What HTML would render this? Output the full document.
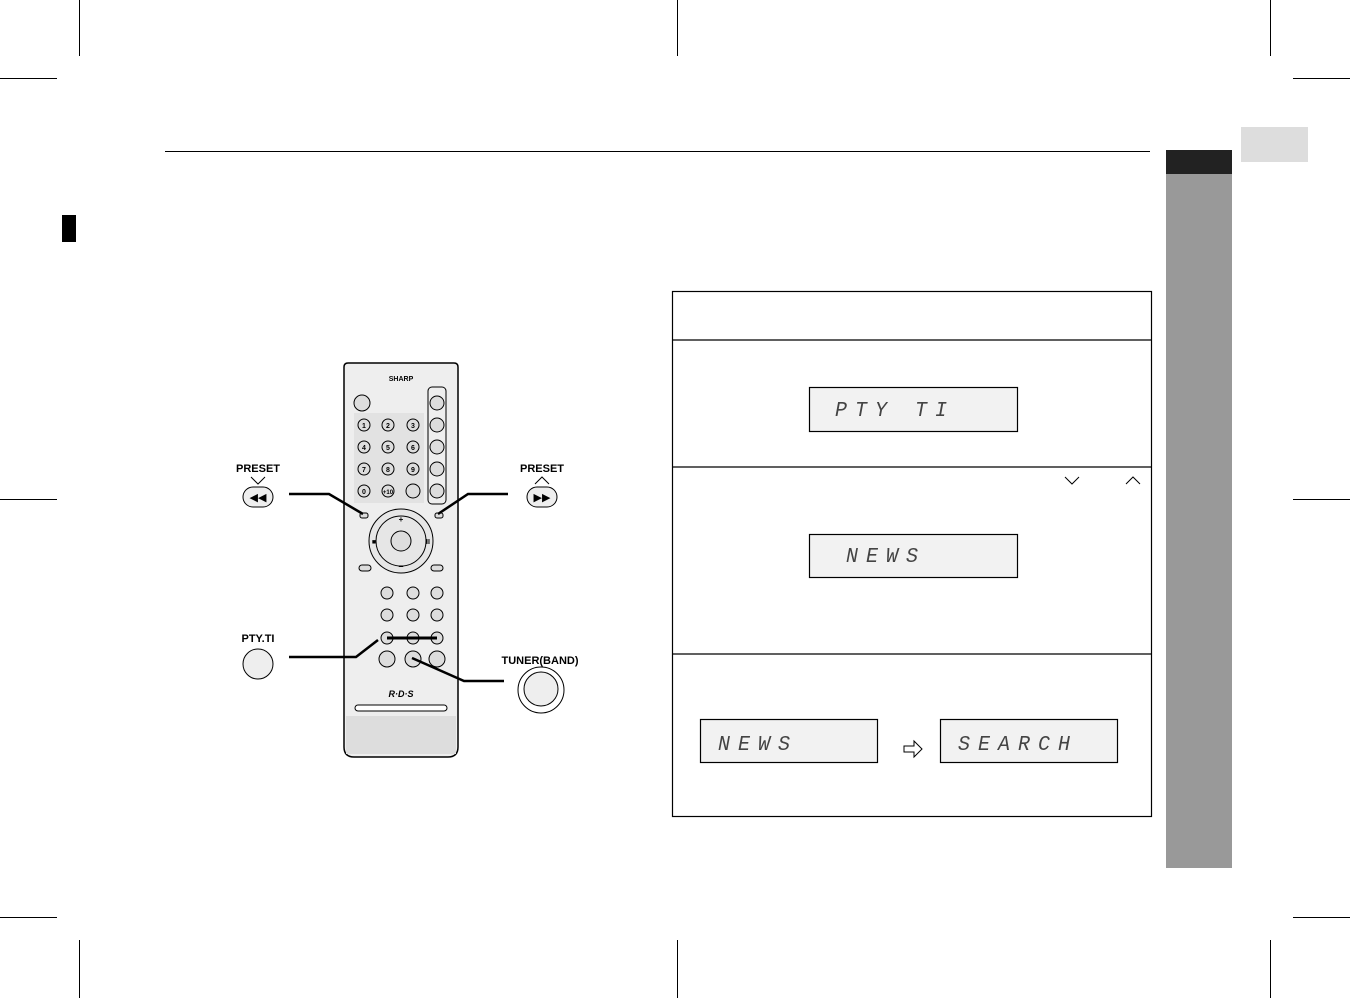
<!DOCTYPE html>
<html><head><style>
body{margin:0;width:1350px;height:998px;background:#fff;position:relative;overflow:hidden;font-family:"Liberation Sans",sans-serif}
.a{position:absolute}
.seg{font-family:"Liberation Mono",monospace;font-size:20px;letter-spacing:8px;color:#444;font-style:italic;transform:scaleY(1.05)}
</style></head><body>
<svg class="a" style="left:0;top:0" width="1350" height="998">
<g stroke="#000" stroke-width="1">
<line x1="79.5" y1="0" x2="79.5" y2="56"/><line x1="677.5" y1="0" x2="677.5" y2="56"/><line x1="1270.5" y1="0" x2="1270.5" y2="56"/>
<line x1="79.5" y1="940" x2="79.5" y2="998"/><line x1="677.5" y1="940" x2="677.5" y2="998"/><line x1="1270.5" y1="940" x2="1270.5" y2="998"/>
<line x1="0" y1="78.5" x2="57" y2="78.5"/><line x1="1293" y1="78.5" x2="1350" y2="78.5"/>
<line x1="0" y1="499.5" x2="57" y2="499.5"/><line x1="1293" y1="499.5" x2="1350" y2="499.5"/>
<line x1="0" y1="917.5" x2="57" y2="917.5"/><line x1="1293" y1="917.5" x2="1350" y2="917.5"/>
<line x1="165" y1="151.5" x2="1150" y2="151.5"/>
</g>
<rect x="62" y="215" width="14" height="27" fill="#000"/>
<rect x="1166" y="150" width="66" height="718" fill="#999"/>
<rect x="1166" y="150" width="66" height="24" fill="#222"/>
<rect x="1241" y="127" width="67" height="35" fill="#ddd"/>
<g fill="none" stroke="#000" stroke-width="1.2">
<rect x="672.5" y="291.5" width="479" height="525"/>
<line x1="672" y1="340" x2="1151" y2="340"/><line x1="672" y1="467" x2="1151" y2="467"/><line x1="672" y1="654" x2="1151" y2="654"/>
<path d="M1065 477l7 7 7-7M1126 484l7-7 7 7" stroke-width="1"/>
</g>
<g fill="#f2f2f2" stroke="#000" stroke-width="1.2">
<rect x="809.5" y="387.5" width="208" height="44"/>
<rect x="809.5" y="534.5" width="208" height="43"/>
<rect x="700.5" y="719.5" width="177" height="43"/>
<rect x="940.5" y="719.5" width="177" height="43"/>
</g>
<path d="M904 746h10v-5l8 8-8 8v-5h-10z" fill="none" stroke="#000"/>
<!-- remote -->
<path d="M344 367q0-4 4-4h106q4 0 4 4v380q0 10-10 10h-94q-10 0-10-10z" fill="#eee" stroke="#000" stroke-width="1.5"/>
<path d="M346 716h110v38h-110z" fill="#ddd"/>
<rect x="354" y="413" width="70" height="90" fill="#e2e2e2"/>
<text x="401" y="381" font-size="7" font-weight="bold" text-anchor="middle">SHARP</text>
<g fill="#ddd" stroke="#000">
<circle cx="362" cy="403" r="8"/>
<circle cx="364" cy="425" r="6"/><circle cx="388" cy="425" r="6"/><circle cx="413" cy="425" r="6"/>
<circle cx="364" cy="447" r="6"/><circle cx="388" cy="447" r="6"/><circle cx="413" cy="447" r="6"/>
<circle cx="364" cy="469" r="6"/><circle cx="388" cy="469" r="6"/><circle cx="413" cy="469" r="6"/>
<circle cx="364" cy="491" r="6"/><circle cx="388" cy="491" r="6"/><circle cx="413" cy="491" r="7"/>
<rect x="428" y="387" width="18" height="117" rx="4" fill="none"/>
<circle cx="437" cy="403" r="7"/><circle cx="437" cy="425" r="7"/><circle cx="437" cy="447" r="7"/><circle cx="437" cy="469" r="7"/><circle cx="437" cy="491" r="7"/>
<circle cx="401" cy="541" r="32" fill="#e6e6e6"/>
<circle cx="401" cy="541" r="25" fill="#e6e6e6"/>
<circle cx="401" cy="541" r="10"/>
<rect x="359" y="565" width="12" height="6" rx="3"/><rect x="431" y="565" width="12" height="6" rx="3"/>
<circle cx="387" cy="593" r="6"/><circle cx="413" cy="593" r="6"/><circle cx="437" cy="593" r="6"/>
<circle cx="387" cy="615" r="6"/><circle cx="413" cy="615" r="6"/><circle cx="437" cy="615" r="6"/>
<circle cx="387" cy="638" r="6"/><circle cx="413" cy="638" r="6"/><circle cx="437" cy="638" r="6"/>
<circle cx="387" cy="659" r="8"/><circle cx="413" cy="659" r="8"/><circle cx="437" cy="659" r="8"/>
<rect x="355" y="705" width="92" height="6" rx="3" fill="#fff"/>
<rect x="360" y="513" width="8" height="5" rx="2"/><rect x="435" y="513" width="8" height="5" rx="2"/>
</g>
<g font-size="7" font-weight="bold" text-anchor="middle">
<text x="364" y="428">1</text><text x="388" y="428">2</text><text x="413" y="428">3</text>
<text x="364" y="450">4</text><text x="388" y="450">5</text><text x="413" y="450">6</text>
<text x="364" y="472">7</text><text x="388" y="472">8</text><text x="413" y="472">9</text>
<text x="364" y="494">0</text><text x="388" y="494" font-size="6">+10</text>
<text x="401" y="522" font-size="8">+</text><text x="401" y="569" font-size="9">–</text>
<text x="374" y="544">■</text><text x="428" y="544">II</text>
</g>
<line x1="387" y1="638" x2="437" y2="638" stroke="#000" stroke-width="3"/>
<text x="401" y="697" font-size="9" font-weight="bold" font-style="italic" text-anchor="middle">R·D·S</text>
<!-- callouts -->
<g fill="none" stroke="#000" stroke-width="2.5">
<path d="M289 494h40l34 20"/><path d="M508 494h-40l-30 20"/>
<path d="M289 657h67l22-17"/><path d="M504 681h-40l-52-23"/>
</g>
<g stroke="#000" fill="#eee">
<rect x="243" y="487" width="30" height="20" rx="10"/><rect x="527" y="487" width="30" height="20" rx="10"/>
<circle cx="258" cy="664" r="15"/>
<circle cx="541" cy="690" r="23" fill="#fff"/><circle cx="541" cy="689" r="17"/>
</g>
<text x="258" y="501" font-size="11" text-anchor="middle">◀◀</text>
<text x="542" y="501" font-size="11" text-anchor="middle">▶▶</text>
<g font-size="11" font-weight="bold" text-anchor="middle">
<text x="258" y="472">PRESET</text><text x="542" y="472">PRESET</text>
<text x="258" y="642">PTY.TI</text><text x="540" y="664">TUNER(BAND)</text>
</g>
<path d="M251 477l7 7 7-7M535 484l7-7 7 7" fill="none" stroke="#000"/>
</svg>
<div class="a seg" style="left:835px;top:400px">PTY TI</div>
<div class="a seg" style="left:846px;top:546px">NEWS</div>
<div class="a seg" style="left:718px;top:734px">NEWS</div>
<div class="a seg" style="left:958px;top:734px">SEARCH</div>
</body></html>
